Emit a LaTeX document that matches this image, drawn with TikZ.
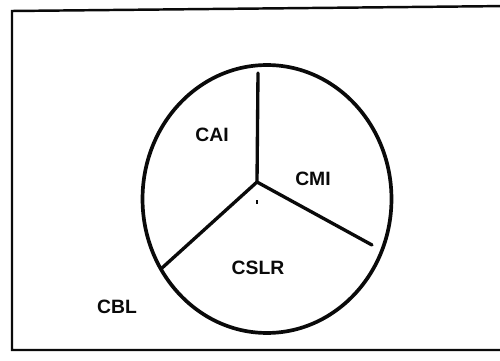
\documentclass[tikz,border=0pt]{standalone}
\usepackage{fontspec}
\setmainfont{Liberation Sans}
\usepackage{tikz}
\usetikzlibrary{positioning}
\definecolor{inkdark}{RGB}{10,10,10}
\tikzset{
  frameline/.style={line width=1.4pt, color=inkdark},
  ringline/.style={line width=2.1pt, color=inkdark},
  spoke/.style={line width=1.9pt, color=inkdark, line cap=round},
  seglabel/.style={font=\fontsize{11}{13}\selectfont\bfseries, text=inkdark, inner sep=0pt}
}
\begin{document}
\begin{tikzpicture}[x=0.02cm, y=-0.02cm]
  \useasboundingbox (0,0) rectangle (500,361);
  % ── outer frame (open on the right) ─────────────────────────────────────
  \draw[frameline] (510,6) -- (12,11) -- (12,350) -- (510,350);
  % ── ring ────────────────────────────────────────────────────────────────
  \coordinate (ringc) at (267,199);
  \draw[ringline] (ringc) ellipse [x radius=2.49cm, y radius=2.68cm];
  % ── spokes ──────────────────────────────────────────────────────────────
  \coordinate (hub) at (257,182);
  \coordinate (topend) at (258,73);
  \coordinate (leftend) at (162,268);
  \coordinate (rightend) at (372,245);
  \draw[spoke] (topend) -- (hub);
  \draw[spoke] (hub) -- (leftend);
  \draw[spoke] (hub) -- (rightend);
  \fill[inkdark] (256,200) rectangle (258,204);
  % ── labels ──────────────────────────────────────────────────────────────
  \node[seglabel] (cai) at (212,135) {CAI};
  \node[seglabel] (cmi) at (313,179) {CMI};
  \node[seglabel] (cslr) at (258,268) {CSLR};
  \node[seglabel] (cbl) at (117,307) {CBL};
\end{tikzpicture}
\end{document}
